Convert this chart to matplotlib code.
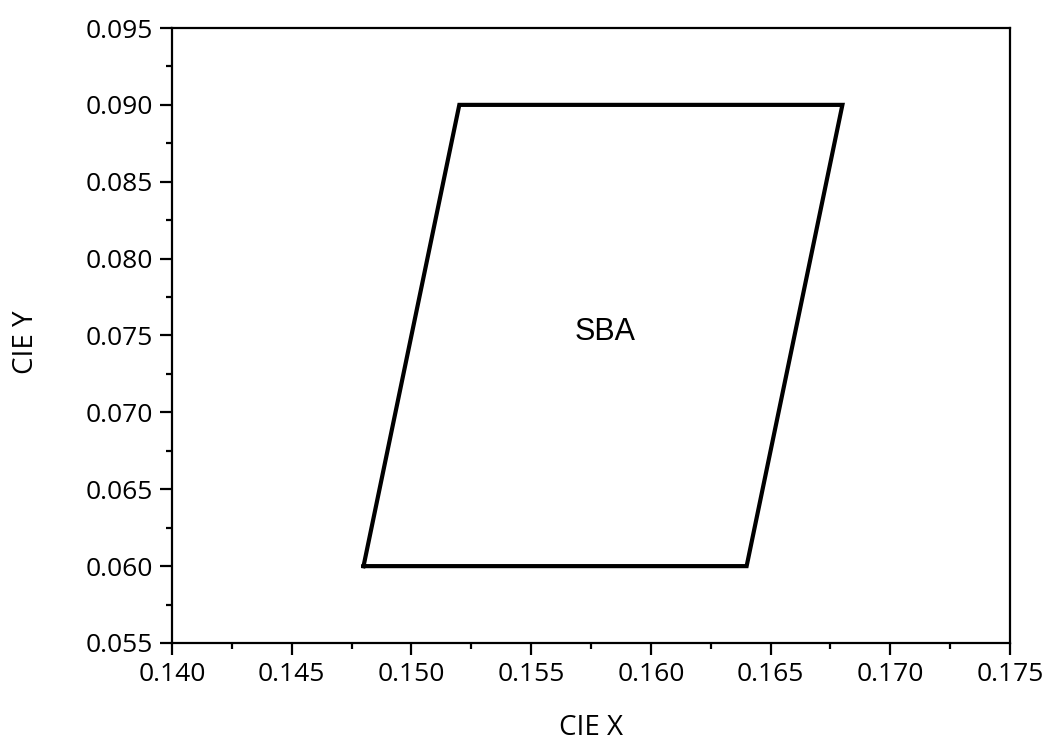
import matplotlib
matplotlib.use("Agg")
import matplotlib.pyplot as plt
from matplotlib.ticker import MultipleLocator, FormatStrFormatter

# Data: SBA region corners (CIE x, CIE y)
cie_x = [0.148, 0.152, 0.168, 0.164, 0.148]
cie_y = [0.060, 0.090, 0.090, 0.060, 0.060]
region_label = "SBA"
label_pos = (0.1581, 0.0752)

fig = plt.figure(figsize=(10.5, 7.42), dpi=100)
ax = fig.add_axes([172/1050, 1 - 643/742, (1010-172)/1050, (643-28)/742])

ax.plot(cie_x, cie_y, color="black", linewidth=3.0, solid_joinstyle="miter")
ax.text(label_pos[0], label_pos[1], region_label, ha="center", va="center",
        fontsize=22, family="Liberation Sans")

ax.set_xlim(0.140, 0.175)
ax.set_ylim(0.055, 0.095)
ax.xaxis.set_major_locator(MultipleLocator(0.005))
ax.xaxis.set_minor_locator(MultipleLocator(0.0025))
ax.yaxis.set_major_locator(MultipleLocator(0.005))
ax.yaxis.set_minor_locator(MultipleLocator(0.0025))
ax.xaxis.set_major_formatter(FormatStrFormatter("%.3f"))
ax.yaxis.set_major_formatter(FormatStrFormatter("%.3f"))

for s in ax.spines.values():
    s.set_linewidth(1.6)
ax.tick_params(which="major", direction="out", length=8.6, width=1.6, labelsize=19, pad=5)
ax.tick_params(which="minor", direction="out", length=4.5, width=1.6)
for lab in ax.get_xticklabels() + ax.get_yticklabels():
    lab.set_family("Open Sans")

ax.set_xlabel("CIE X", fontsize=20, family="Open Sans")
ax.set_ylabel("CIE Y", fontsize=20, family="Open Sans")
ax.xaxis.label.set_va("center")
ax.xaxis.set_label_coords(0.5, (643 - 728) / 615)
ax.yaxis.label.set_va("center")
ax.yaxis.label.set_ha("center")
ax.yaxis.set_label_coords((26 - 172) / 838, (643 - 342) / 615)

fig.savefig("out.png", dpi=100)
